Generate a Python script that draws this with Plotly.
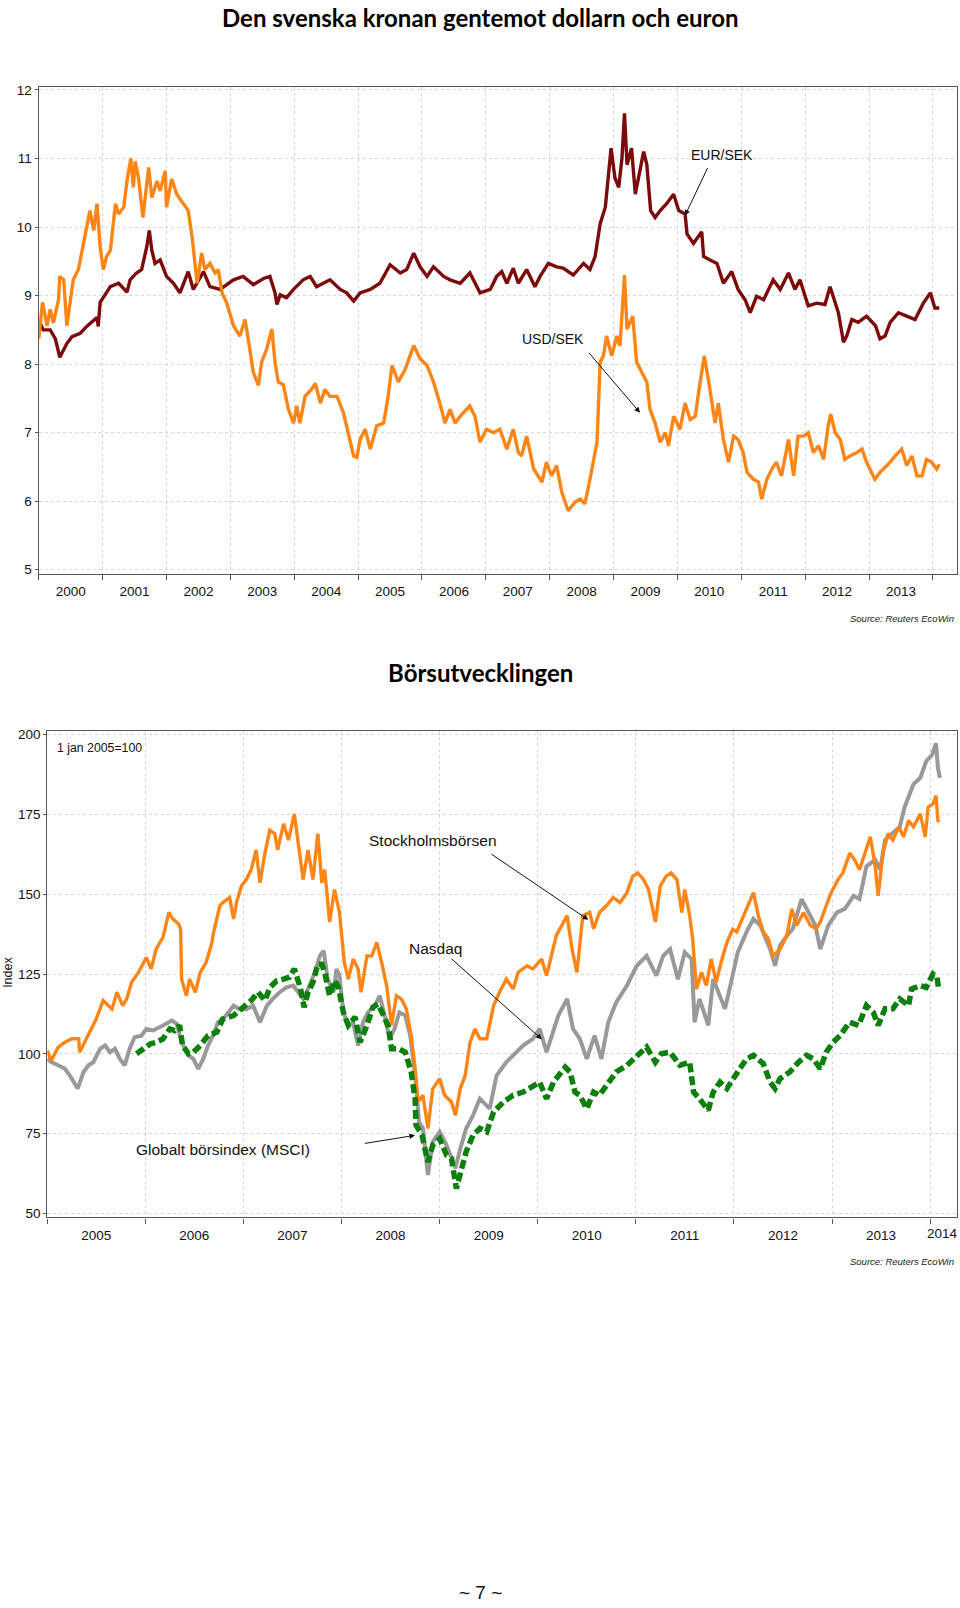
import numpy as np
import pandas as pd
import plotly.graph_objects as go

# ---------------- DATA (decimal years) ----------------
eur_t = [2000.0, 2000.07, 2000.18, 2000.26, 2000.33, 2000.44, 2000.52, 2000.65, 2000.75, 2000.91,
         2000.93, 2000.96, 2001.12, 2001.25, 2001.38, 2001.43, 2001.53, 2001.61, 2001.69, 2001.73,
         2001.77, 2001.82, 2001.9, 2002.0, 2002.11, 2002.21, 2002.34, 2002.42, 2002.58, 2002.68,
         2002.84, 2002.94, 2003.05, 2003.2, 2003.36, 2003.52, 2003.62, 2003.7, 2003.73, 2003.78,
         2003.88, 2003.99, 2004.14, 2004.25, 2004.35, 2004.56, 2004.72, 2004.82, 2004.93, 2005.03,
         2005.19, 2005.34, 2005.5, 2005.66, 2005.76, 2005.87, 2005.97, 2006.08, 2006.18, 2006.34,
         2006.44, 2006.6, 2006.75, 2006.91, 2007.07, 2007.17, 2007.25, 2007.33, 2007.43, 2007.51,
         2007.64, 2007.77, 2007.85, 2007.98, 2008.11, 2008.21, 2008.37, 2008.53, 2008.63, 2008.71,
         2008.79, 2008.87, 2008.92, 2008.96, 2009.02, 2009.08, 2009.13, 2009.17, 2009.21, 2009.28,
         2009.34, 2009.39, 2009.47, 2009.52, 2009.58, 2009.65, 2009.73, 2009.83, 2009.94, 2010.02,
         2010.12, 2010.15, 2010.25, 2010.38, 2010.41, 2010.51, 2010.62, 2010.72, 2010.85, 2010.95,
         2011.06, 2011.14, 2011.24, 2011.35, 2011.45, 2011.5, 2011.61, 2011.74, 2011.84, 2011.92,
         2012.0, 2012.05, 2012.18, 2012.31, 2012.39, 2012.44, 2012.52, 2012.6, 2012.65, 2012.73,
         2012.83, 2012.96, 2013.1, 2013.17, 2013.25, 2013.33, 2013.46, 2013.59, 2013.72, 2013.85,
         2013.96, 2014.03, 2014.1]
eur_v = [8.65, 8.5, 8.5, 8.37, 8.1, 8.3, 8.4, 8.45, 8.55, 8.68,
         8.55, 8.9, 9.13, 9.18, 9.05, 9.23, 9.33, 9.38, 9.71, 9.95,
         9.66, 9.47, 9.52, 9.28, 9.18, 9.04, 9.35, 9.09, 9.35, 9.13,
         9.09, 9.16, 9.23, 9.28, 9.16, 9.25, 9.28, 9.04, 8.87, 9.01,
         8.97, 9.09, 9.23, 9.28, 9.13, 9.23, 9.09, 9.04, 8.92, 9.04,
         9.09, 9.18, 9.45, 9.33, 9.38, 9.62, 9.42, 9.28, 9.42, 9.28,
         9.23, 9.18, 9.33, 9.04, 9.09, 9.28, 9.35, 9.18, 9.4, 9.18,
         9.38, 9.13, 9.28, 9.47, 9.42, 9.4, 9.3, 9.47, 9.38, 9.57,
         10.05, 10.29, 10.77, 11.15, 10.72, 10.58, 11.0, 11.66, 10.91, 11.15,
         10.48, 10.72, 11.1, 10.91, 10.24, 10.14, 10.24, 10.34, 10.48, 10.24,
         10.19, 9.9, 9.76, 9.93, 9.57, 9.52, 9.47, 9.18, 9.35, 9.09,
         8.94, 8.75, 8.99, 8.94, 9.13, 9.23, 9.09, 9.33, 9.09, 9.23,
         8.99, 8.85, 8.89, 8.87, 9.13, 8.99, 8.75, 8.32, 8.41, 8.65,
         8.61, 8.7, 8.56, 8.37, 8.41, 8.61, 8.75, 8.7, 8.65, 8.89,
         9.04, 8.82, 8.82]

usd_t = [2000.0, 2000.06, 2000.13, 2000.18, 2000.23, 2000.31, 2000.33, 2000.39, 2000.44, 2000.49,
         2000.54, 2000.62, 2000.7, 2000.8, 2000.86, 2000.91, 2000.96, 2001.01, 2001.06, 2001.12,
         2001.2, 2001.25, 2001.33, 2001.38, 2001.44, 2001.48, 2001.51, 2001.56, 2001.63, 2001.72,
         2001.77, 2001.85, 2001.9, 2001.98, 2002.0, 2002.08, 2002.16, 2002.24, 2002.34, 2002.4,
         2002.45, 2002.48, 2002.55, 2002.6, 2002.68, 2002.76, 2002.81, 2002.87, 2002.94, 2003.05,
         2003.15, 2003.23, 2003.28, 2003.36, 2003.44, 2003.49, 2003.57, 2003.65, 2003.7, 2003.75,
         2003.83, 2003.91, 2003.99, 2004.04, 2004.09, 2004.17, 2004.27, 2004.33, 2004.41, 2004.48,
         2004.56, 2004.67, 2004.77, 2004.85, 2004.93, 2004.98, 2005.03, 2005.11, 2005.19, 2005.29,
         2005.4, 2005.47, 2005.53, 2005.63, 2005.74, 2005.87, 2005.97, 2006.08, 2006.18, 2006.28,
         2006.36, 2006.44, 2006.52, 2006.6, 2006.75, 2006.83, 2006.91, 2007.01, 2007.12, 2007.22,
         2007.33, 2007.43, 2007.51, 2007.56, 2007.64, 2007.75, 2007.88, 2007.95, 2008.03, 2008.11,
         2008.19, 2008.29, 2008.4, 2008.48, 2008.55, 2008.63, 2008.74, 2008.79, 2008.84, 2008.89,
         2008.97, 2009.05, 2009.1, 2009.17, 2009.21, 2009.3, 2009.36, 2009.44, 2009.52, 2009.57,
         2009.65, 2009.73, 2009.81, 2009.86, 2009.94, 2010.04, 2010.12, 2010.2, 2010.28, 2010.33,
         2010.42, 2010.49, 2010.59, 2010.64, 2010.72, 2010.8, 2010.88, 2010.95, 2011.03, 2011.09,
         2011.19, 2011.27, 2011.32, 2011.4, 2011.48, 2011.55, 2011.63, 2011.74, 2011.82, 2011.89,
         2011.97, 2012.05, 2012.13, 2012.21, 2012.29, 2012.36, 2012.4, 2012.47, 2012.55, 2012.62,
         2012.7, 2012.81, 2012.89, 2012.96, 2013.09, 2013.17, 2013.28, 2013.41, 2013.51, 2013.59,
         2013.67, 2013.75, 2013.83, 2013.9, 2013.98, 2014.06, 2014.1]
usd_v = [8.37, 8.9, 8.56, 8.8, 8.6, 8.94, 9.28, 9.23, 8.56, 8.9,
         9.23, 9.38, 9.76, 10.24, 9.95, 10.34, 9.71, 9.38, 9.57, 9.66,
         10.34, 10.19, 10.29, 10.67, 11.0, 10.58, 10.96, 10.72, 10.14, 10.87,
         10.43, 10.67, 10.53, 10.82, 10.29, 10.7, 10.48, 10.38, 10.24, 9.86,
         9.47, 9.18, 9.62, 9.38, 9.47, 9.33, 9.38, 9.04, 8.9, 8.56,
         8.41, 8.65, 8.37, 7.88, 7.69, 8.03, 8.22, 8.51, 8.03, 7.74,
         7.7, 7.34, 7.14, 7.39, 7.14, 7.53, 7.63, 7.72, 7.43, 7.63,
         7.53, 7.53, 7.29, 6.95, 6.66, 6.64, 6.9, 7.05, 6.76, 7.1,
         7.14, 7.53, 7.98, 7.74, 7.93, 8.27, 8.08, 7.98, 7.74, 7.43,
         7.14, 7.34, 7.14, 7.24, 7.39, 7.24, 6.86, 7.05, 7.0, 7.05,
         6.76, 7.05, 6.71, 6.66, 6.95, 6.47, 6.28, 6.57, 6.37, 6.52,
         6.13, 5.86, 5.99, 6.03, 5.96, 6.32, 6.86, 8.03, 8.12, 8.41,
         8.12, 8.41, 8.27, 9.3, 8.51, 8.7, 8.03, 7.88, 7.74, 7.34,
         7.14, 6.86, 7.0, 6.81, 7.24, 7.05, 7.43, 7.19, 7.24, 7.58,
         8.12, 7.74, 7.14, 7.43, 6.9, 6.57, 6.95, 6.9, 6.71, 6.42,
         6.32, 6.28, 6.03, 6.32, 6.47, 6.57, 6.37, 6.9, 6.37, 6.95,
         6.95, 7.0, 6.71, 6.81, 6.61, 7.1, 7.27, 7.0, 6.9, 6.61,
         6.66, 6.71, 6.76, 6.57, 6.32, 6.42, 6.52, 6.66, 6.76, 6.52,
         6.66, 6.37, 6.37, 6.61, 6.57, 6.47, 6.54]

omx_t = [2005.0, 2005.04, 2005.11, 2005.18, 2005.25, 2005.32, 2005.33, 2005.38, 2005.45, 2005.5,
         2005.57, 2005.66, 2005.71, 2005.77, 2005.81, 2005.86, 2005.93, 2006.01, 2006.06, 2006.11,
         2006.18, 2006.2, 2006.24, 2006.28, 2006.34, 2006.36, 2006.37, 2006.42, 2006.45, 2006.51,
         2006.56, 2006.62, 2006.68, 2006.69, 2006.76, 2006.79, 2006.86, 2006.9, 2006.93, 2006.98,
         2007.03, 2007.08, 2007.13, 2007.17, 2007.22, 2007.27, 2007.32, 2007.35, 2007.41, 2007.46,
         2007.52, 2007.56, 2007.61, 2007.66, 2007.71, 2007.76, 2007.8, 2007.83, 2007.88, 2007.93,
         2007.98, 2008.03, 2008.07, 2008.12, 2008.17, 2008.2, 2008.26, 2008.31, 2008.36, 2008.41,
         2008.46, 2008.51, 2008.56, 2008.61, 2008.66, 2008.71, 2008.75, 2008.78, 2008.83, 2008.88,
         2008.93, 2009.0, 2009.05, 2009.12, 2009.16, 2009.21, 2009.26, 2009.31, 2009.36, 2009.41,
         2009.48, 2009.55, 2009.61, 2009.68, 2009.75, 2009.8, 2009.89, 2009.95, 2010.04, 2010.09,
         2010.19, 2010.3, 2010.35, 2010.4, 2010.43, 2010.46, 2010.53, 2010.57, 2010.63, 2010.7,
         2010.77, 2010.84, 2010.91, 2010.97, 2011.02, 2011.08, 2011.13, 2011.2, 2011.25, 2011.31,
         2011.36, 2011.42, 2011.47, 2011.5, 2011.55, 2011.58, 2011.62, 2011.67, 2011.72, 2011.77,
         2011.82, 2011.87, 2011.93, 2011.99, 2012.03, 2012.1, 2012.15, 2012.2, 2012.25, 2012.3,
         2012.35, 2012.4, 2012.47, 2012.54, 2012.59, 2012.64, 2012.71, 2012.78, 2012.84, 2012.88,
         2012.94, 2012.99, 2013.06, 2013.11, 2013.18, 2013.23, 2013.28, 2013.34, 2013.39, 2013.44,
         2013.47, 2013.52, 2013.57, 2013.62, 2013.68, 2013.73, 2013.78, 2013.83, 2013.9, 2013.95,
         2013.98, 2014.03, 2014.06, 2014.08, 2014.09]
omx_v = [101, 97.9, 102, 103.6, 104.7, 104.7, 100.5, 103.6, 107.8, 111,
         116.7, 114, 119.3, 115.1, 117.2, 122.4, 125.5, 130.2, 126.6, 132.8,
         136.5, 139.2, 144.3, 142.3, 140.7, 139, 123.4, 118.2, 123.4, 119.3,
         125.5, 128.6, 134.9, 137.1, 146.4, 147.4, 149, 142.3, 147.4, 152.6,
         154.6, 157.7, 163.9, 153.6, 162.9, 170.1, 169, 163.9, 172.1, 167,
         175.2, 166, 154.6, 163.9, 154.6, 169, 153.6, 157.7, 141.3, 151.5,
         144.3, 128.6, 123.4, 129.7, 126.6, 119.3, 130.7, 130.7, 134.9, 128.6,
         121.4, 108.9, 118.2, 117.2, 114.1, 105.7, 95.3, 84.9, 87, 76.6,
         89.1, 92.2, 87, 84.9, 80.7, 89.1, 93.2, 103.6, 107.8, 104.7,
         104.7, 115.1, 119.3, 123.4, 120.3, 125.5, 127.6, 126.6, 129.7, 124.5,
         137.1, 143.3, 132.8, 125.5, 133.9, 143.3, 144.3, 139.2, 144.3, 146.4,
         149, 147.4, 150.5, 155.7, 156.7, 154.6, 151.5, 141.3, 152.6, 155.7,
         156.7, 154.6, 144.3, 151.5, 143.3, 136.1, 120.3, 125.5, 121.4, 129.7,
         122.4, 128.6, 134.9, 139, 138.2, 143.3, 147.4, 150.5, 143.3, 138.2,
         136.1, 130.7, 132.8, 137, 145.4, 140.2, 144.3, 140.2, 139.2, 141.3,
         146.4, 150.5, 154.6, 156.7, 162.9, 160.8, 157.7, 162.9, 168, 158.7,
         149.5, 162.9, 169, 167, 171.1, 168, 173.1, 171.1, 175.2, 168,
         177.3, 178.3, 180.9, 173.1, 172.6]

ndq_t = [2005.0, 2005.04, 2005.11, 2005.18, 2005.23, 2005.31, 2005.37, 2005.42, 2005.47, 2005.54,
         2005.59, 2005.64, 2005.69, 2005.74, 2005.79, 2005.84, 2005.89, 2005.96, 2006.01, 2006.08,
         2006.18, 2006.27, 2006.32, 2006.37, 2006.44, 2006.49, 2006.54, 2006.59, 2006.64, 2006.69,
         2006.74, 2006.81, 2006.9, 2006.96, 2007.03, 2007.1, 2007.17, 2007.24, 2007.3, 2007.37,
         2007.44, 2007.51, 2007.56, 2007.61, 2007.66, 2007.73, 2007.78, 2007.82, 2007.86, 2007.92,
         2007.95, 2007.98, 2008.02, 2008.07, 2008.12, 2008.17, 2008.22, 2008.27, 2008.34, 2008.39,
         2008.44, 2008.49, 2008.54, 2008.59, 2008.65, 2008.7, 2008.75, 2008.79, 2008.83, 2008.88,
         2008.93, 2009.0, 2009.07, 2009.16, 2009.21, 2009.27, 2009.34, 2009.41, 2009.51, 2009.58,
         2009.68, 2009.75, 2009.85, 2009.95, 2010.02, 2010.09, 2010.14, 2010.21, 2010.3, 2010.36,
         2010.43, 2010.5, 2010.58, 2010.65, 2010.72, 2010.8, 2010.91, 2011.01, 2011.11, 2011.21,
         2011.28, 2011.35, 2011.43, 2011.5, 2011.57, 2011.6, 2011.65, 2011.74, 2011.79, 2011.86,
         2011.91, 2011.98, 2012.04, 2012.13, 2012.2, 2012.27, 2012.33, 2012.37, 2012.42, 2012.47,
         2012.54, 2012.6, 2012.69, 2012.76, 2012.83, 2012.88, 2012.96, 2013.05, 2013.13, 2013.22,
         2013.28, 2013.35, 2013.44, 2013.49, 2013.54, 2013.61, 2013.69, 2013.74, 2013.79, 2013.83,
         2013.9, 2013.96, 2014.02, 2014.06, 2014.08, 2014.1]
ndq_v = [98.4, 97.4, 96.4, 95.3, 93.2, 89.1, 94.3, 96.4, 97.4, 101.6,
         102.6, 100.5, 101.6, 98.4, 96.4, 101.6, 105.2, 105.7, 107.8, 107.3,
         108.9, 110.4, 109.4, 103.6, 99.5, 98.4, 95.3, 98.4, 102.6, 105.7,
         109.9, 111.5, 115.1, 114, 114, 115.1, 109.9, 115.1, 117.2, 119.3,
         120.8, 121.4, 119.3, 117.2, 120.3, 125.5, 130.7, 132.3, 123.4, 119.3,
         126.6, 124.5, 113, 108.9, 109.9, 102.6, 109.9, 113, 115.1, 118.2,
         112, 104.7, 107.8, 113, 112, 105.7, 93.2, 78.6, 76.6, 62,
         72.4, 75.5, 71.4, 64.1, 70.3, 76.6, 80.7, 85.9, 82.8, 93.2,
         97.4, 99.5, 102.6, 104.7, 107.8, 100.5, 105.7, 112, 117.2, 107.8,
         104.7, 98.4, 105.7, 98.4, 109.9, 116.1, 121.4, 127.6, 130.7, 124.5,
         130.7, 132.8, 123.4, 131.8, 129.7, 109.9, 117.2, 108.9, 123.4, 118.2,
         114.1, 123.4, 131.8, 138.2, 142.3, 140.2, 136.1, 132.8, 127.6, 133.9,
         137, 139.2, 148.5, 144.3, 140.2, 132.8, 140.2, 144.3, 145.4, 149.5,
         148.5, 158.7, 160.8, 157.7, 167, 169, 171.1, 177.3, 181.4, 184.5,
         186.5, 191.7, 193.7, 197.3, 189.6, 186.5]

msci_t = [2005.91, 2005.98, 2006.05, 2006.11, 2006.18, 2006.25, 2006.3, 2006.35, 2006.38, 2006.44,
          2006.49, 2006.56, 2006.64, 2006.73, 2006.79, 2006.9, 2007.0, 2007.08, 2007.15, 2007.22,
          2007.27, 2007.34, 2007.41, 2007.47, 2007.52, 2007.58, 2007.62, 2007.66, 2007.71, 2007.76,
          2007.8, 2007.83, 2007.88, 2007.93, 2007.97, 2008.02, 2008.07, 2008.14, 2008.19, 2008.26,
          2008.32, 2008.37, 2008.43, 2008.48, 2008.51, 2008.58, 2008.65, 2008.71, 2008.75, 2008.76,
          2008.82, 2008.88, 2008.93, 2009.0, 2009.07, 2009.12, 2009.17, 2009.22, 2009.27, 2009.34,
          2009.41, 2009.48, 2009.55, 2009.65, 2009.75, 2009.85, 2009.95, 2010.02, 2010.09, 2010.16,
          2010.28, 2010.33, 2010.38, 2010.43, 2010.5, 2010.57, 2010.63, 2010.72, 2010.8, 2010.91,
          2011.01, 2011.11, 2011.2, 2011.26, 2011.35, 2011.45, 2011.55, 2011.59, 2011.65, 2011.74,
          2011.79, 2011.86, 2011.93, 2011.99, 2012.06, 2012.13, 2012.2, 2012.3, 2012.37, 2012.42,
          2012.47, 2012.57, 2012.66, 2012.74, 2012.81, 2012.88, 2012.94, 2013.01, 2013.08, 2013.18,
          2013.27, 2013.35, 2013.42, 2013.47, 2013.54, 2013.62, 2013.69, 2013.78, 2013.81, 2013.9,
          2013.96, 2014.03, 2014.07, 2014.09]
msci_v = [100, 101.6, 103.1, 103.6, 104.7, 107.8, 107.3, 108.9, 102.6, 100,
          100.5, 102.6, 105.7, 106.8, 110.9, 112, 114.6, 116.7, 119.3, 116.7,
          120.8, 122.9, 123.4, 124, 126.6, 120.8, 114.6, 119.3, 122.4, 128.1,
          128.1, 125.5, 118.2, 122.9, 120.8, 113, 108.9, 111.5, 103.6, 108.9,
          114.6, 115.6, 112, 108.3, 101.6, 101.6, 100.5, 94.3, 85.9, 77.6,
          74.5, 66.1, 71.4, 73.4, 68.2, 67.2, 57.8, 64.1, 69.3, 74.5,
          76.6, 75.5, 81.8, 84.9, 87, 88, 90.1, 91.1, 85.9, 91.1,
          95.8, 94.3, 88, 87, 82.8, 88, 87, 91.1, 94.3, 96.4,
          99.5, 102.1, 97.4, 100, 100.5, 96.4, 97.4, 88, 85.9, 82.3,
          88, 91.1, 89.1, 92.2, 95.3, 98.4, 99.5, 96.9, 91.1, 89.1,
          92.2, 94.3, 97.4, 99.5, 98.4, 95.3, 100.5, 103.6, 105.7, 109.9,
          108.9, 115.1, 113, 108.9, 114.1, 114.1, 117.2, 115.1, 120.3, 121.4,
          120.8, 125, 124, 119.8]

fx_names = ["EUR/SEK", "USD/SEK"]
stock_names = ["Nasdaq", "Stockholmsbörsen", "Globalt börsindex (MSCI)"]


def to_dates(ts):
    out = []
    for t in ts:
        y = int(np.floor(t))
        a = pd.Timestamp(y, 1, 1)
        b = pd.Timestamp(y + 1, 1, 1)
        out.append(a + (b - a) * (t - y))
    return out


W, H = 960, 1608


def px(x):
    return x / W


def py(y):
    return 1 - y / H


FONT = "Arial, 'Liberation Sans', sans-serif"
TITLE_FONT = "Lato, 'Open Sans', sans-serif"

fig = go.Figure()

fig.add_trace(go.Scatter(x=to_dates(eur_t), y=eur_v, mode="lines", name=fx_names[0],
                         line=dict(color="#7D0A0A", width=3.4), xaxis="x", yaxis="y"))
fig.add_trace(go.Scatter(x=to_dates(usd_t), y=usd_v, mode="lines", name=fx_names[1],
                         line=dict(color="#FF8516", width=3.4), xaxis="x", yaxis="y"))

fig.add_trace(go.Scatter(x=to_dates(ndq_t), y=ndq_v, mode="lines", name=stock_names[0],
                         line=dict(color="#999999", width=4), xaxis="x2", yaxis="y2"))
fig.add_trace(go.Scatter(x=to_dates(omx_t), y=omx_v, mode="lines", name=stock_names[1],
                         line=dict(color="#FF8516", width=3.4), xaxis="x2", yaxis="y2"))
fig.add_trace(go.Scatter(x=to_dates(msci_t), y=msci_v, mode="lines", name=stock_names[2],
                         line=dict(color="#0A800A", width=5.5, dash="9px,4px"), xaxis="x2", yaxis="y2"))

axis_common = dict(showline=True, linecolor="#555555", linewidth=1.3, mirror=True,
                   showgrid=True, gridcolor="#d6d6d6", griddash="dot", gridwidth=1,
                   zeroline=False, ticks="outside", tickcolor="#555555",
                   tickfont=dict(family=FONT, size=13.5, color="#111111"))

fig.update_layout(
    width=W, height=H, margin=dict(l=0, r=0, t=0, b=0),
    paper_bgcolor="white", plot_bgcolor="white", showlegend=False,
    font=dict(family=FONT, color="#111111"),
    xaxis=dict(domain=[px(38.7), px(956.7)], anchor="y", type="date",
               range=["2000-01-01", "2014-05-17"], dtick="M12", tick0="2000-01-01",
               tickformat="%Y", ticklabelmode="period", ticklen=5, **axis_common),
    yaxis=dict(domain=[py(571.7), py(82.7)], anchor="x", range=[4.945, 12.04],
               dtick=1, ticklen=3, **axis_common),
    xaxis2=dict(domain=[px(47.3), px(956.7)], anchor="y2", type="date",
                range=["2005-01-01", "2014-04-10"], dtick="M12", tick0="2005-01-01",
                tickformat="%Y", ticklabelmode="period", ticklen=5, **axis_common),
    yaxis2=dict(domain=[py(1219.3), py(730)], anchor="x2", range=[48.7, 201.2],
                dtick=25, ticklen=3, **axis_common),
)

ann = []
# titles
ann.append(dict(text="<b>Den svenska kronan gentemot dollarn och euron</b>", x=px(480), y=py(13),
                xref="paper", yref="paper", showarrow=False, xanchor="center", yanchor="middle",
                font=dict(family=TITLE_FONT, size=24, color="#000000")))
ann.append(dict(text="<b>Börsutvecklingen</b>", x=px(480), y=py(671), xref="paper", yref="paper",
                showarrow=False, xanchor="center", yanchor="middle",
                font=dict(family=TITLE_FONT, size=24, color="#000000")))
# sources
for yy in (617.3, 1264):
    ann.append(dict(text="<i>Source: Reuters EcoWin</i>", x=px(956), y=py(yy), xref="paper",
                    yref="paper", showarrow=False, xanchor="right", yanchor="middle",
                    font=dict(family=FONT, size=9.5, color="#222222")))
# last year label of lower chart (partial year at the right edge)
ann.append(dict(text="2014", x=px(942.7), y=py(1235), xref="paper", yref="paper",
                showarrow=False, xanchor="center", yanchor="middle",
                font=dict(family=FONT, size=13.5, color="#111111")))
# index notes
ann.append(dict(text="1 jan 2005=100", x=px(55), y=py(746.7), xref="paper", yref="paper",
                showarrow=False, xanchor="left", yanchor="middle",
                font=dict(family=FONT, size=12.3, color="#111111")))
ann.append(dict(text="Index", x=px(7.3), y=py(973), xref="paper", yref="paper", textangle=-90,
                showarrow=False, xanchor="center", yanchor="middle",
                font=dict(family=FONT, size=12.5, color="#111111")))
ann.append(dict(text="~ 7 ~", x=px(480), y=py(1596), xref="paper", yref="paper",
                showarrow=False, xanchor="center", yanchor="middle",
                font=dict(family=FONT, size=19, color="#111111")))

# series labels with arrows: (text, text center, size, arrow tail, arrow head)
labels = [
    (fx_names[0], (722.3, 151), 14, (708.3, 162.7), (685, 211.7)),
    (fx_names[1], (552.7, 336), 14, (587.7, 348.7), (640, 410)),
    (stock_names[1], (432.8, 840.7), 15.5, (490, 853.3), (588.3, 920)),
    (stock_names[0], (435.5, 949.3), 15.5, (450, 958.3), (541.7, 1040)),
    (stock_names[2], (223.3, 1150.7), 15.5, (363.3, 1145), (415, 1136.7)),
]
for text, (tx, ty), fs, (ax0, ay0), (hx, hy) in labels:
    ann.append(dict(text=text, x=px(tx), y=py(ty), xref="paper", yref="paper", showarrow=False,
                    xanchor="center", yanchor="middle", font=dict(family=FONT, size=fs, color="#111111")))
    ann.append(dict(text="", x=px(hx), y=py(hy), xref="paper", yref="paper", showarrow=True,
                    ax=ax0 - hx, ay=ay0 - hy, arrowhead=2, arrowsize=1.1, arrowwidth=1,
                    arrowcolor="#111111", standoff=0, startstandoff=0))

fig.update_layout(annotations=ann)
fig.write_html("out.html", config={"displayModeBar": False},
               post_script="document.body.style.margin='0';document.body.style.overflow='hidden';")
